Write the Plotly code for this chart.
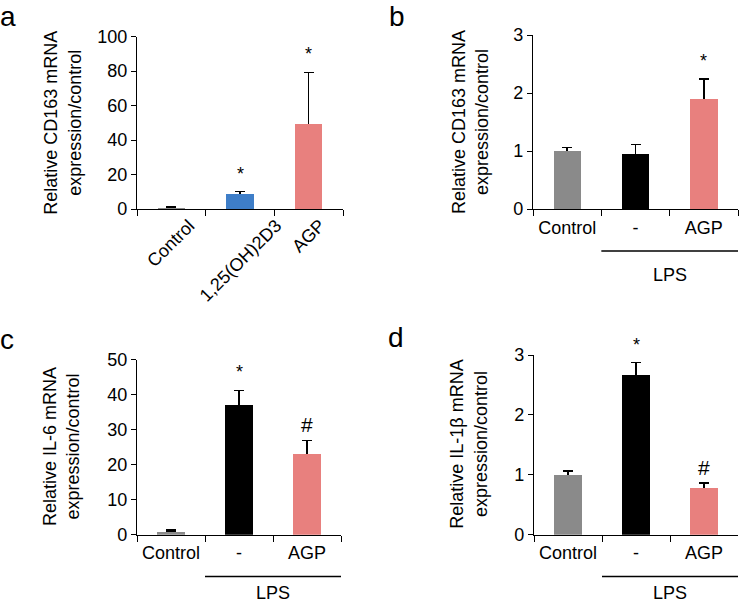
import plotly.graph_objects as go

# ---------------- data ----------------
cats_a = ["Control", "1,25(OH)2D3", "AGP"]
vals_a = [1.0, 8.7, 49.5]
err_a = [0.4, 1.4, 29.8]
marks_a = ["", "*", "*"]
colors_a = ["#8a8a8a", "#3e7ec8", "#e8807e"]

cats_lps = ["Control", "-", "AGP"]
colors_lps = ["#8a8a8a", "#000000", "#e8807e"]

vals_b = [1.0, 0.95, 1.90]
err_b = [0.06, 0.16, 0.34]
marks_b = ["", "", "*"]

vals_c = [1.0, 37.1, 23.2]
err_c = [0.25, 4.1, 3.7]
marks_c = ["", "*", "#"]

vals_d = [1.0, 2.66, 0.78]
err_d = [0.06, 0.21, 0.08]
marks_d = ["", "*", "#"]

ytitles = [
    "Relative CD163 mRNA<br>expression/control",
    "Relative CD163 mRNA<br>expression/control",
    "Relative IL-6 mRNA<br>expression/control",
    "Relative IL-1β mRNA<br>expression/control",
]
yranges = [[0, 100], [0, 3], [0, 50], [0, 3]]
ydticks = [20, 1, 10, 1]
letters = ["a", "b", "c", "d"]
group_label = "LPS"

# ---------------- layout geometry (pixels) ----------------
W, H = 739, 604
FONT = "Arial, Liberation Sans, Helvetica, sans-serif"
# (x0, x1, ytop, ybottom) of each plot area in pixels
boxes = [
    (137, 343, 36.5, 209),
    (533, 738, 35, 209),
    (137, 341, 359.5, 534.5),
    (534, 738, 355, 534.5),
]
title_shift = [-74, -63, -76, -65]
group_shift = [0, -66, -58, -58]
letter_pos = [(8, 17), (397, 17), (7, 339), (396, 337)]

panels = [
    (cats_a, vals_a, err_a, marks_a, colors_a),
    (cats_lps, vals_b, err_b, marks_b, colors_lps),
    (cats_lps, vals_c, err_c, marks_c, colors_lps),
    (cats_lps, vals_d, err_d, marks_d, colors_lps),
]

fig = go.Figure()
annotations = []
shapes = []
layout_axes = {}

for i, (cats, vals, errs, marks, cols) in enumerate(panels):
    n = i + 1
    xa = "x" if n == 1 else f"x{n}"
    ya = "y" if n == 1 else f"y{n}"
    # under-bar carrying the error bars
    fig.add_trace(go.Bar(
        x=cats, y=vals, xaxis=xa, yaxis=ya, width=0.4,
        marker=dict(color=cols, line=dict(width=0)),
        error_y=dict(type="data", array=errs, symmetric=True,
                     color="black", thickness=1.4, width=5),
        showlegend=False, hoverinfo="skip",
    ))
    # same bars on top to hide the lower half of the error bars
    fig.add_trace(go.Bar(
        x=cats, y=vals, xaxis=xa, yaxis=ya, width=0.4,
        marker=dict(color=cols, line=dict(width=0)),
        showlegend=False, hoverinfo="skip",
    ))
    # significance marks
    for c, v, e, m in zip(cats, vals, errs, marks):
        if m:
            annotations.append(dict(
                text=m, xref=xa, yref=ya, x=c, y=v + e,
                xanchor="center", yanchor="bottom", yshift=6 if m == "*" else 2,
                showarrow=False,
                font=dict(family=FONT, size=18 if m == "*" else 21, color="black"),
            ))

    x0, x1, yt, yb = boxes[i]
    xdom = [x0 / W, x1 / W]
    ydom = [(H - yb) / H, (H - yt) / H]
    axis_common = dict(showline=True, linecolor="black", linewidth=1.3,
                       ticks="outside", tickcolor="black", tickwidth=1.3,
                       showgrid=False, zeroline=False, fixedrange=True,
                       tickfont=dict(family=FONT, size=18, color="black"))
    xkey = "xaxis" if n == 1 else f"xaxis{n}"
    ykey = "yaxis" if n == 1 else f"yaxis{n}"
    layout_axes[xkey] = dict(axis_common, domain=xdom, anchor=ya, type="category",
                             range=[-0.5, 2.5], tickson="boundaries", ticklen=6,
                             showticklabels=(n != 1), ticklabelstandoff=2)
    layout_axes[ykey] = dict(axis_common, domain=ydom, anchor=xa, range=yranges[i],
                             dtick=ydticks[i], tick0=0, ticklen=5)

    # y axis title
    annotations.append(dict(
        text=ytitles[i], xref=f"{xa} domain", yref=f"{ya} domain",
        x=0, y=0.5, xanchor="center", yanchor="middle", xshift=title_shift[i],
        textangle=-90, showarrow=False, font=dict(family=FONT, size=18, color="black"),
    ))
    # panel letter
    lx, ly = letter_pos[i]
    annotations.append(dict(
        text=letters[i], xref="paper", yref="paper", x=lx / W, y=1 - ly / H,
        xanchor="center", yanchor="middle", showarrow=False,
        font=dict(family=FONT, size=28, color="black"),
    ))

    if n == 1:
        # rotated category labels
        for c in cats:
            annotations.append(dict(
                text=c, xref=xa, yref=f"{ya} domain", x=c, y=0,
                xanchor="center", yanchor="top", yshift=-4, textangle=-45,
                showarrow=False, font=dict(family=FONT, size=18, color="black"),
            ))
    else:
        # LPS group line and label
        shapes.append(dict(
            type="line", xref=xa, yref=f"{ya} domain", x0=0.5, x1=2.5,
            ysizemode="pixel", yanchor=0, y0=-42, y1=-42,
            line=dict(color="black", width=1.4),
        ))
        annotations.append(dict(
            text=group_label, xref=xa, yref=f"{ya} domain", x=1.5, y=0,
            xanchor="center", yanchor="middle", yshift=group_shift[i], showarrow=False,
            font=dict(family=FONT, size=18, color="black"),
        ))

fig.update_layout(
    width=W, height=H,
    margin=dict(l=0, r=0, t=0, b=0, pad=0, autoexpand=False),
    plot_bgcolor="white", paper_bgcolor="white",
    barmode="overlay", bargap=0,
    font=dict(family=FONT, size=18, color="black"),
    annotations=annotations, shapes=shapes,
    **layout_axes,
)

fig.write_html(
    "out.html",
    config={"displayModeBar": False},
    post_script="document.body.style.margin='0';document.documentElement.style.overflow='hidden';",
)
